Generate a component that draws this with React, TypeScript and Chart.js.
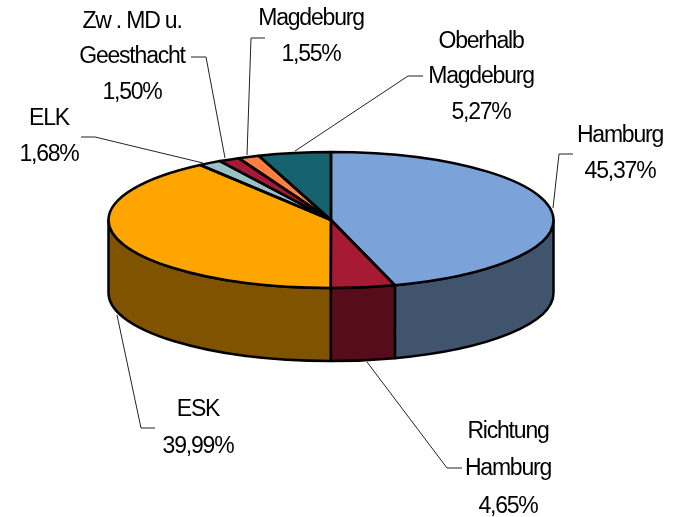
import React, { useEffect, useRef } from "react";
import { Chart, registerables } from "chart.js";

Chart.register(...registerables);

const categories = ["Hamburg", "Richtung Hamburg", "ESK", "ELK", "Zw . MD u. Geesthacht", "Magdeburg", "Oberhalb Magdeburg"];
const shares = [45.37, 4.65, 39.99, 1.68, 1.5, 1.55, 5.27];
const topColors = ["#7BA3DA", "#A71A33", "#FFA500", "#99C2C4", "#A71A33", "#FF7F3F", "#17626F"];
const sideColors = ["#40546E", "#570C1A", "#805300", "#4D6162", "#570C1A", "#804020", "#0C3138"];

const labelLines = [
  ["Hamburg", "45,37%"],
  ["Richtung", "Hamburg", "4,65%"],
  ["ESK", "39,99%"],
  ["ELK", "1,68%"],
  ["Zw . MD u.", "Geesthacht", "1,50%"],
  ["Magdeburg", "1,55%"],
  ["Oberhalb", "Magdeburg", "5,27%"],
];
const labelCentres = [
  [620, 135.5, 36],
  [508, 431.5, 37.5],
  [198, 409.5, 37],
  [49, 118.5, 36],
  [132, 21.5, 35.5],
  [311, 18.5, 36],
  [481, 41.5, 35.5],
];
const leaders = [
  [[573, 154], [559, 154], [553, 208]],
  [[462, 468], [447, 468], [367, 362]],
  [[155, 428], [141, 428], [117, 315]],
  [[81, 137], [95, 137], [203, 163]],
  [[191, 57], [206, 57], [225, 158]],
  [[265, 38], [251, 38], [247, 155]],
  [[423, 76], [408, 76], [295, 151]],
];

const CENTRE_Y = 220;
const RADIUS_X = 222.5;
const RADIUS_Y = 68;
const DEPTH = 73;

const pie3d = {
  id: "pie3d",
  beforeDatasetsDraw(chart: any) {
    const ctx = chart.ctx;
    const arcs = chart.getDatasetMeta(0).data;
    const cx = arcs[0].x;
    ctx.save();
    ctx.lineWidth = 2.5;
    ctx.strokeStyle = "#000";
    ctx.lineJoin = "round";
    arcs.forEach((arc: any, i: number) => {
      const a0 = Math.max(arc.startAngle, 0);
      const a1 = Math.min(arc.endAngle, Math.PI);
      if (a1 <= a0) return;
      ctx.beginPath();
      ctx.ellipse(cx, CENTRE_Y + DEPTH, RADIUS_X, RADIUS_Y, 0, a0, a1);
      ctx.ellipse(cx, CENTRE_Y, RADIUS_X, RADIUS_Y, 0, a1, a0, true);
      ctx.closePath();
      ctx.fillStyle = sideColors[i];
      ctx.fill();
      ctx.stroke();
    });
    ctx.restore();
    ctx.save();
    ctx.translate(cx, CENTRE_Y);
    ctx.scale(1, RADIUS_Y / RADIUS_X);
    ctx.translate(-cx, -arcs[0].y);
  },
  afterDatasetsDraw(chart: any) {
    const ctx = chart.ctx;
    ctx.restore();
    const arcs = chart.getDatasetMeta(0).data;
    const cx = arcs[0].x;
    ctx.save();
    ctx.lineWidth = 2.5;
    ctx.strokeStyle = "#000";
    ctx.lineJoin = "round";
    arcs.forEach((arc: any) => {
      ctx.beginPath();
      ctx.moveTo(cx, CENTRE_Y);
      ctx.ellipse(cx, CENTRE_Y, RADIUS_X, RADIUS_Y, 0, arc.startAngle, arc.endAngle);
      ctx.closePath();
      ctx.stroke();
    });
    ctx.lineWidth = 1;
    ctx.strokeStyle = "#222";
    leaders.forEach((pts) => {
      ctx.beginPath();
      pts.forEach(([x, y], k) => (k ? ctx.lineTo(x, y) : ctx.moveTo(x, y)));
      ctx.stroke();
    });
    ctx.fillStyle = "#000";
    ctx.font = '23px "Liberation Sans"';
    ctx.textAlign = "center";
    ctx.textBaseline = "middle";
    (ctx as any).letterSpacing = "-1.2px";
    labelLines.forEach((lines, i) => {
      const [x, y, step] = labelCentres[i];
      lines.forEach((t, k) => ctx.fillText(t, x, y + k * step));
    });
    ctx.restore();
  },
};

export default function App() {
  const ref = useRef<HTMLCanvasElement>(null);
  useEffect(() => {
    const chart = new Chart(ref.current!, {
      type: "pie",
      data: {
        labels: categories,
        datasets: [{ data: shares, backgroundColor: topColors, borderWidth: 0 }],
      },
      options: {
        responsive: false,
        animation: false,
        radius: RADIUS_X,
        layout: { padding: { left: 0, right: 15, top: 0, bottom: 0 } },
        plugins: { legend: { display: false }, tooltip: { enabled: false } },
      } as any,
      plugins: [pie3d],
    });
    return () => chart.destroy();
  }, []);
  return (
    <div style={{ position: "absolute", left: 0, top: 0, width: 677, height: 517, background: "#fff" }}>
      <canvas ref={ref} width={677} height={517} style={{ display: "block" }} />
    </div>
  );
}
